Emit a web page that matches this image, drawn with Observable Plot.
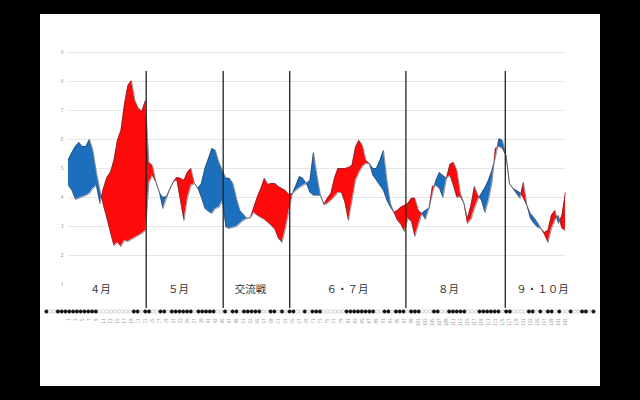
<!DOCTYPE html>
<html><head><meta charset="utf-8">
<script src="https://cdn.jsdelivr.net/npm/d3@7"></script>
<script src="https://cdn.jsdelivr.net/npm/@observablehq/plot@0.6"></script>
<style>
body{margin:0;background:#000;width:640px;height:400px;overflow:hidden;font-family:"Noto Sans CJK JP","Noto Sans",sans-serif;}
#panel{position:absolute;left:40px;top:14px;width:560px;height:372px;background:#fff;}
#panel svg{position:absolute;left:0;}
</style></head><body><div id="panel"></div>
<script>
const seriesA = [
4.41,4.24,3.93,3.97,4.03,4.07,4.14,4.31,4.41,3.79,
4.31,4.69,4.86,5.28,5.97,6.31,7.21,7.86,8.03,7.34,
7.07,6.97,7.34,5.21,5.10,4.52,4.17,3.62,3.97,4.31,
4.55,4.69,4.66,4.59,4.86,5.00,4.48,4.31,4.00,3.62,
3.52,3.45,3.62,3.66,3.90,2.97,2.93,2.97,3.00,3.10,
3.21,3.28,3.31,3.66,4.03,4.31,4.66,4.45,4.48,4.48,
4.38,4.31,4.24,4.10,4.14,4.24,4.34,4.41,4.48,4.17,
4.07,4.07,4.07,3.76,3.97,4.14,4.66,5.00,5.00,5.00,
5.03,5.10,5.72,5.97,5.79,5.28,5.17,4.76,4.59,4.41,
4.24,3.90,3.66,3.48,3.55,3.66,3.72,3.79,3.97,3.97,
3.55,3.45,3.24,3.62,4.38,4.41,4.31,4.00,4.66,5.14,
5.21,4.93,4.14,3.79,3.28,3.72,4.38,4.07,3.90,3.48,
3.90,4.52,5.69,5.76,5.69,5.45,4.48,4.31,4.14,3.97,
4.52,3.72,3.28,3.10,2.97,2.93,2.79,2.86,3.38,3.55,
3.10,3.38,4.17];
const seriesB = [
5.31,5.55,5.76,5.90,5.76,5.76,6.00,5.62,4.86,4.24,
3.72,3.28,2.79,2.34,2.45,2.31,2.52,2.48,2.55,2.62,
2.69,2.76,2.86,4.52,4.76,4.52,4.17,4.00,4.03,4.31,
4.55,4.59,3.90,3.21,4.00,4.41,4.48,4.31,4.48,5.00,
5.34,5.69,5.62,5.21,4.93,4.66,4.66,4.48,3.97,3.55,
3.41,3.28,3.31,3.48,3.38,3.31,3.24,3.14,3.03,2.90,
2.59,2.45,2.93,3.55,4.14,4.41,4.72,4.66,4.48,4.59,
5.55,4.76,4.07,3.76,3.79,3.90,4.03,4.17,4.17,3.83,
3.21,3.90,4.59,4.86,5.07,5.17,5.17,5.00,5.00,5.28,
5.62,4.59,3.79,3.48,3.21,3.07,2.83,3.28,3.17,2.66,
3.07,3.45,3.55,3.62,4.14,4.59,4.86,4.76,4.66,4.76,
4.41,4.00,4.03,3.79,3.10,3.24,3.62,3.93,4.14,4.34,
4.59,4.93,5.38,6.03,5.97,5.45,4.48,4.31,4.24,4.17,
3.97,3.72,3.45,3.31,3.14,2.93,2.72,2.45,2.93,3.21,
3.38,2.93,2.86];
const boundaries = [23.2, 45.2, 64.2, 97.4, 125.8];
const periodLabels = ["４月","５月","交流戦","６・７月","８月","９・１０月"];
const periodLabelAt = [10.1, 32.4, 53, 80.7, 109.6, 136.4];
const yTicks = [1,2,3,4,5,6,7,8,9];
const results = "WLLWWWWWWWWWWWLLLLLLLLLWWLWWLLWWLWWWWWWLWWWWWLLWLWWLWWWWWLLWWLWLWWLLWLWW" +
                "WLLLLLLWWWWWWWWLLWWLWWWLWWWLLLWWLLWWWWWLLLWWWWWWLWWLLLLWWLWLWWLWLLWLLWWLW";

const N = seriesA.length;
const games = d3.range(1, N + 1);
// build points with exact crossing points inserted
const pts = [];
for (let i = 0; i < N; i++) {
  pts.push({x: games[i], a: seriesA[i], b: seriesB[i]});
  if (i < N - 1) {
    const d0 = seriesA[i] - seriesB[i], d1 = seriesA[i+1] - seriesB[i+1];
    if (d0 * d1 < 0) {
      const t = d0 / (d0 - d1);
      const v = seriesA[i] + t * (seriesA[i+1] - seriesA[i]);
      pts.push({x: games[i] + t, a: v, b: v});
    }
  }
}
const RED = "#ff0a0a", BLUE = "#1b6fbd";

const main = Plot.plot({
  width: 560, height: 372,
  marginLeft: 28, marginRight: 35, marginTop: 57, marginBottom: 78,
  x: {domain: [1, N], label: null},
  y: {domain: [1, 9], range: [270, 38], label: null},
  style: {fontFamily: '"Noto Sans CJK JP","Noto Sans",sans-serif', background: "transparent"},
  marks: [
    Plot.ruleY(yTicks.slice(1), {stroke: "#e6e6e6", strokeWidth: 1}),
    Plot.areaY(pts, {x: "x", y1: "b", y2: d => Math.max(d.a, d.b), fill: RED}),
    Plot.areaY(pts, {x: "x", y1: "a", y2: d => Math.max(d.a, d.b), fill: BLUE}),
    Plot.lineY(pts, {x: "x", y: "a", stroke: "#3a3a4a", strokeWidth: 0.7, strokeOpacity: 0.8}),
    Plot.lineY(pts, {x: "x", y: "b", stroke: "#3a3a4a", strokeWidth: 0.7, strokeOpacity: 0.8}),
    Plot.ruleX(boundaries, {stroke: "#222", strokeWidth: 1.3}),
    Plot.text(periodLabels, {x: (d, i) => periodLabelAt[i], y: 1, dy: 5, fontSize: 10.5, fill: "#333"}),
    Plot.axisY(yTicks, {tickSize: 0, tickPadding: 5, fontSize: 5, fill: "#999", label: null}),
    Plot.axisX(d3.range(1, N + 1, 2), {tickSize: 0, tickPadding: 1, fontSize: 4.5, fill: "#999", tickRotate: -90, dy: 9, label: null})
  ]
});
main.style.top = "0px";
document.getElementById("panel").appendChild(main);

const dots = Plot.plot({
  width: 560, height: 10,
  marginLeft: 6, marginRight: 7, marginTop: 5, marginBottom: 5,
  x: {domain: [1, results.length], axis: null},
  color: {type: "identity"},
  style: {background: "transparent"},
  marks: [
    Plot.dot(results.split(""), {x: (d, i) => i + 1, r: 1.7,
      fill: d => d === "W" ? "#111" : "#fff",
      stroke: d => d === "W" ? "#111" : "#bbb", strokeWidth: 0.6})
  ]
});
dots.style.top = "292px";
document.getElementById("panel").appendChild(dots);
</script></body></html>
